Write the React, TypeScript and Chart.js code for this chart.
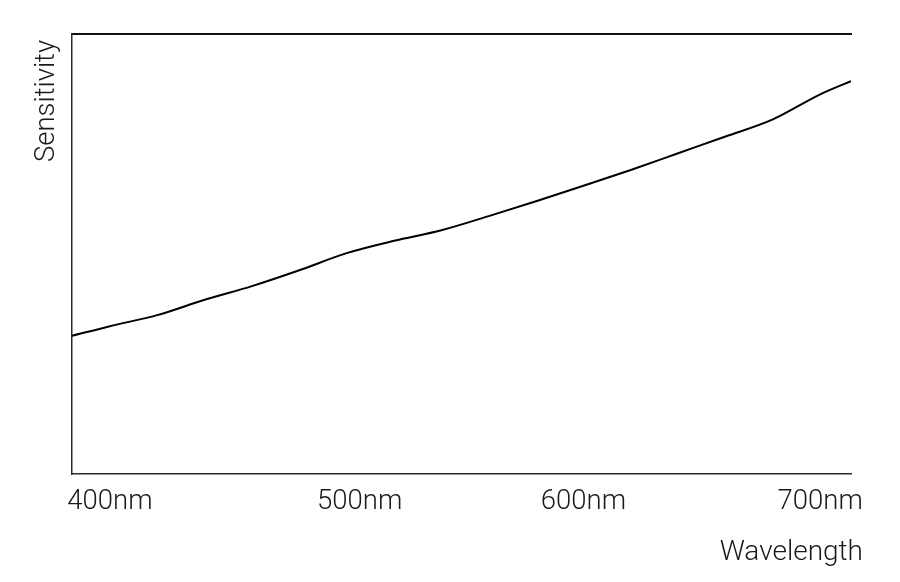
import React, { useEffect, useRef } from "react";
import { Chart, registerables } from "chart.js";

Chart.register(...registerables);

// Wavelength (nm) samples along the curve
const WAVELENGTHS = [384, 400, 420, 440, 460, 480, 500, 520, 540, 560, 580, 600, 620, 640, 660, 680, 700, 713];
// Relative sensitivity (0..100)
const SENSITIVITY = [31.4, 33.6, 36.1, 39.6, 42.7, 46.3, 50.2, 53.0, 55.4, 58.6, 62.0, 65.5, 69.1, 72.9, 76.7, 80.6, 86.3, 89.3];
// Tick positions (as drawn in the figure) and their labels
const TICK_VALUES = [400, 505.5, 600, 700];
const TICK_LABELS = ["400nm", "500nm", "600nm", "700nm"];
const X_TITLE = "Wavelength";
const Y_TITLE = "Sensitivity";

const X_MIN = 384;
const X_MAX = 713;

export default function App() {
  const ref = useRef<HTMLCanvasElement | null>(null);
  useEffect(() => {
    if (!ref.current) return;
    const family = "Roboto, 'Liberation Sans', Arial, sans-serif";
    const font = { family, size: 27.5, weight: "300" as any };
    const textColor = "#1a1a1a";
    const titlesPlugin = {
      id: "axisTitles",
      afterDraw(c: any) {
        const ctx = c.ctx;
        const a = c.chartArea;
        ctx.save();
        ctx.font = `300 28px ${family}`;
        ctx.fillStyle = textColor;
        ctx.textAlign = "right";
        ctx.textBaseline = "middle";
        ctx.fillText(X_TITLE, a.right + 12, a.bottom + 79);
        ctx.translate(47, a.top + 6);
        ctx.rotate(-Math.PI / 2);
        ctx.font = `300 27.5px ${family}`;
        ctx.fillText(Y_TITLE, 0, 0);
        ctx.restore();
      },
    };
    const chart = new Chart(ref.current, {
      type: "line",
      data: {
        datasets: [
          {
            data: WAVELENGTHS.map((w, i) => ({ x: w, y: SENSITIVITY[i] })),
            borderColor: "#000",
            borderWidth: 2,
            pointRadius: 0,
            cubicInterpolationMode: "monotone",
            fill: false,
          },
        ],
      },
      plugins: [titlesPlugin],
      options: {
        animation: false,
        responsive: false,
        layout: { padding: { left: 0, right: 49, top: 34, bottom: 0 } },
        plugins: { legend: { display: false }, tooltip: { enabled: false } },
        scales: {
          x: {
            type: "linear",
            position: "bottom",
            min: X_MIN,
            max: X_MAX,
            afterBuildTicks: (s: any) => {
              s.ticks = TICK_VALUES.map((v) => ({ value: v }));
            },
            afterFit: (s: any) => {
              s.height = 108;
            },
            ticks: {
              autoSkip: false,
              maxRotation: 0,
              padding: 12,
              color: textColor,
              font,
              callback: (v: any) => {
                const i = TICK_VALUES.indexOf(Number(v));
                return i >= 0 ? TICK_LABELS[i] : "";
              },
            },
            grid: { display: false, drawTicks: false },
            border: { display: true, color: "#2a2a2a", width: 1.5 },
          },
          x2: {
            type: "linear",
            position: "top",
            min: X_MIN,
            max: X_MAX,
            ticks: { display: false },
            grid: { display: false, drawTicks: false },
            border: { display: true, color: "#111", width: 2 },
          },
          y: {
            min: 0,
            max: 100,
            ticks: { display: false },
            grid: { display: false, drawTicks: false },
            border: { display: true, color: "#2a2a2a", width: 1.5 },
            afterFit: (s: any) => {
              s.width = 72;
            },
          },
        },
      },
    });
    return () => chart.destroy();
  }, []);
  return (
    <div style={{ position: "absolute", left: 0, top: 0, width: 900, height: 582, background: "#fff" }}>
      <canvas ref={ref} width={900} height={582} />
    </div>
  );
}
